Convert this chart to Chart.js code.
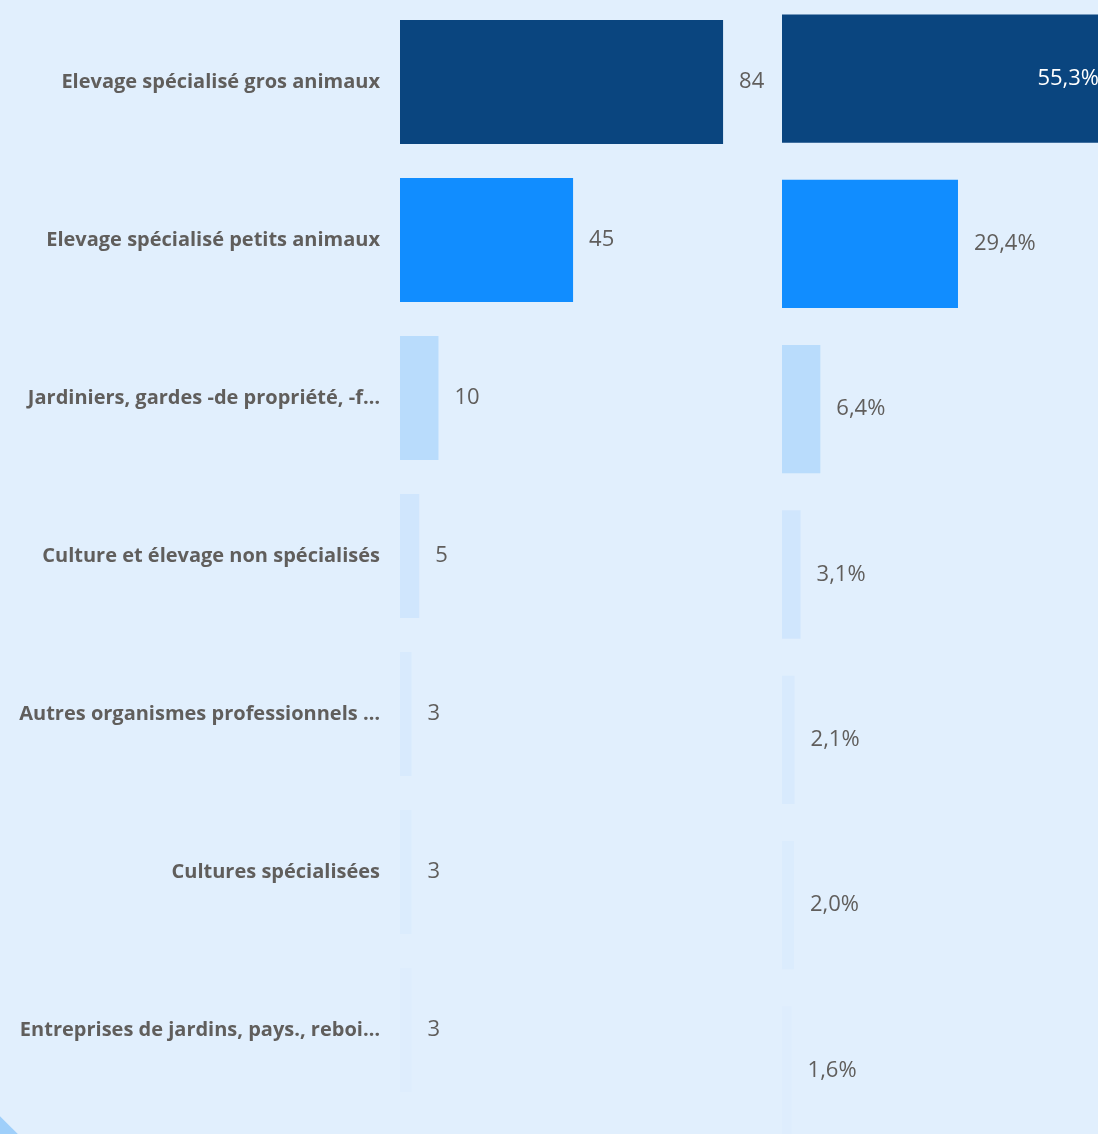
<!DOCTYPE html>
<html>
<head>
<meta charset="utf-8">
<script src="https://cdn.jsdelivr.net/npm/chart.js@4.4.1/dist/chart.umd.min.js"></script>
<style>
  html, body { margin: 0; padding: 0; }
  body { width: 1098px; height: 1134px; background: #e1effd; overflow: hidden; position: relative; }
  .box { position: absolute; }
  #corner { position: absolute; left: -14px; top: 1122px; width: 28px; height: 28px; background: #9fcffa; transform: rotate(45deg); }
</style>
</head>
<body>
<div class="box" style="left:0; top:3px; width:770px; height:1106px;"><canvas id="gauche"></canvas></div>
<div class="box" style="left:782px; top:-4px; width:340px; height:1157px;"><canvas id="droite"></canvas></div>
<div id="corner"></div>
<script>
const categories = [
  'Elevage spécialisé gros animaux',
  'Elevage spécialisé petits animaux',
  'Jardiniers, gardes -de propriété, -f…',
  'Culture et élevage non spécialisés',
  'Autres organismes professionnels …',
  'Cultures spécialisées',
  'Entreprises de jardins, pays., reboi…'
];
const effectifs = [84, 45, 10, 5, 3, 3, 3];
const pourcentages = [55.3, 29.4, 6.4, 3.1, 2.1, 2.0, 1.6];
const couleurs = ['#0a457f', '#118dff', '#b9dcfc', '#d0e6fd', '#d8eafd', '#dbecfd', '#deedfd'];

const gris = '#605e5c';

// étiquettes de valeur au bout des barres
const etiquettes = {
  id: 'etiquettes',
  afterDatasetsDraw(chart, args, opts) {
    const ctx = chart.ctx;
    const meta = chart.getDatasetMeta(0);
    ctx.save();
    ctx.font = '22px "Open Sans", sans-serif';
    ctx.textBaseline = 'middle';
    meta.data.forEach((bar, i) => {
      const txt = opts.format(chart.data.datasets[0].data[i]);
      const w = ctx.measureText(txt).width;
      if (bar.x + 16 + w > opts.limite) {
        ctx.fillStyle = '#ffffff';
        ctx.textAlign = 'right';
        ctx.fillText(txt, bar.x - 14, bar.y);
      } else {
        ctx.fillStyle = gris;
        ctx.textAlign = 'left';
        ctx.fillText(txt, bar.x + 16, bar.y);
      }
    });
    ctx.restore();
  }
};

new Chart(document.getElementById('gauche'), {
  type: 'bar',
  data: {
    labels: categories,
    datasets: [{
      data: effectifs,
      backgroundColor: couleurs,
      categoryPercentage: 1,
      barPercentage: 0.785
    }]
  },
  options: {
    indexAxis: 'y',
    responsive: true,
    maintainAspectRatio: false,
    animation: false,
    layout: { padding: 0 },
    plugins: {
      legend: { display: false },
      tooltip: { enabled: false },
      etiquettes: { limite: 10000, format: v => String(v) }
    },
    scales: {
      x: { display: false, min: 0, max: 96.2 },
      y: {
        // largeur fixe pour la colonne des libellés, pas de marge haut/bas
        afterFit: s => { s.width = 400; s.paddingTop = 0; s.paddingBottom = 0; },
        grid: { display: false, drawTicks: false },
        border: { display: false },
        ticks: {
          color: gris,
          padding: 20,
          font: { family: '"Open Sans", sans-serif', size: 20, weight: 'bold' }
        }
      }
    }
  },
  plugins: [etiquettes]
});

new Chart(document.getElementById('droite'), {
  type: 'bar',
  data: {
    labels: categories,
    datasets: [{
      data: pourcentages,
      backgroundColor: couleurs,
      categoryPercentage: 1,
      barPercentage: 0.776
    }]
  },
  options: {
    indexAxis: 'y',
    responsive: true,
    maintainAspectRatio: false,
    animation: false,
    layout: { padding: 0 },
    plugins: {
      legend: { display: false },
      tooltip: { enabled: false },
      etiquettes: { limite: 316, format: v => v.toFixed(1).replace('.', ',') + '%' }
    },
    scales: {
      x: { display: false, min: 0, max: 56.8 },
      y: { display: false }
    }
  },
  plugins: [etiquettes]
});
</script>
</body>
</html>
